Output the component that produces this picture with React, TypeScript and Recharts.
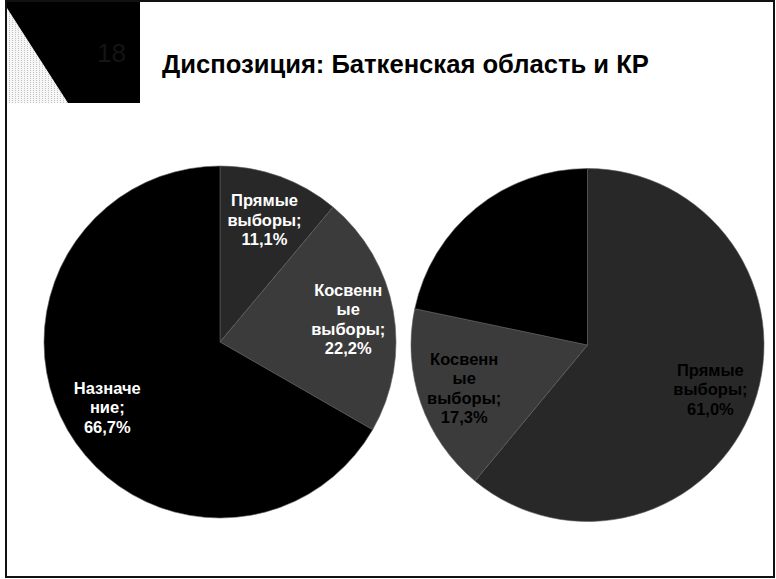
import React from "react";
import { PieChart, Pie, Cell } from "recharts";

const categories = ["Прямые выборы", "Косвенные выборы", "Назначение"];
const batkenValues = [11.1, 22.2, 66.7];
const krValues = [61.0, 17.3, 21.7];
const sliceColors = ["#282828", "#3b3b3b", "#000000"];
const titleText = "Диспозиция: Баткенская область и КР";
const slideNumber = "18";

const batkenData = categories.map((name, i) => ({ name, value: batkenValues[i] }));
const krData = categories.map((name, i) => ({ name, value: krValues[i] }));

const FONT = "'Liberation Sans', Arial, sans-serif";
const RAD = Math.PI / 180;

function wrapLabel(name: string, maxChars = 7): string[] {
  const words = (name + ";").split(" ");
  const lines: string[] = [];
  for (let w of words) {
    while (w.length > maxChars) {
      lines.push(w.slice(0, maxChars));
      w = w.slice(maxChars);
    }
    lines.push(w);
  }
  return lines;
}

function fmt(v: number) {
  return v.toFixed(1).replace(".", ",") + "%";
}

function makeLabel(color: string) {
  return (props: any) => {
    const { cx, cy, midAngle, outerRadius, name, value } = props;
    const r = outerRadius * 0.74;
    const x = cx + r * Math.cos(-midAngle * RAD);
    const y = cy + r * Math.sin(-midAngle * RAD);
    const lines = [...wrapLabel(name), fmt(value)];
    const lh = 19.5;
    const y0 = y - ((lines.length - 1) * lh) / 2;
    return (
      <text
        x={x}
        y={y0}
        fill={color}
        textAnchor="middle"
        dominantBaseline="central"
        style={{ fontFamily: FONT, fontSize: 16.5, fontWeight: 700 }}
      >
        {lines.map((l, i) => (
          <tspan key={i} x={x} y={y0 + i * lh}>
            {l}
          </tspan>
        ))}
      </text>
    );
  };
}

export default function App() {
  return (
    <div
      style={{
        position: "absolute",
        left: 0,
        top: 0,
        width: 776,
        height: 579,
        background: "#fff",
        overflow: "hidden",
      }}
    >
      <svg width={776} height={579} style={{ position: "absolute", left: 0, top: 0 }}>
        <defs>
          <pattern id="dots" width="3" height="2" patternUnits="userSpaceOnUse">
            <rect width="3" height="2" fill="#f6f6f6" />
            <rect x="0" y="0" width="1" height="1" fill="#c4c4c4" />
          </pattern>
        </defs>
        <rect x={7} y={2} width={133} height={101} fill="#000" />
        <polygon points="7,8 7,103 68,103" fill="url(#dots)" />
        <text
          x={97}
          y={62}
          fill="#141414"
          style={{ fontFamily: FONT, fontSize: 26 }}
        >
          {slideNumber}
        </text>
        <text
          x={162}
          y={73}
          fill="#000"
          style={{ fontFamily: FONT, fontSize: 25.6, fontWeight: 700 }}
        >
          {titleText}
        </text>
        <rect x={6} y={1} width={768} height={576} fill="none" stroke="#111" strokeWidth={2} />
      </svg>
      <div style={{ position: "absolute", left: 0, top: 0 }}>
        <PieChart width={776} height={579} margin={{ top: 0, right: 0, bottom: 0, left: 0 }}>
          <Pie
            data={batkenData}
            dataKey="value"
            nameKey="name"
            cx={220}
            cy={342}
            outerRadius={176}
            startAngle={90}
            endAngle={-270}
            stroke="#5e5e5e"
            strokeWidth={0.6}
            label={makeLabel("#ffffff")}
            labelLine={false}
            isAnimationActive={false}
          >
            {batkenData.map((d, i) => (
              <Cell key={d.name} fill={sliceColors[i]} />
            ))}
          </Pie>
          <Pie
            data={krData}
            dataKey="value"
            nameKey="name"
            cx={587.5}
            cy={345}
            outerRadius={176.5}
            startAngle={90}
            endAngle={-270}
            stroke="#5e5e5e"
            strokeWidth={0.6}
            label={makeLabel("#000000")}
            labelLine={false}
            isAnimationActive={false}
          >
            {krData.map((d, i) => (
              <Cell key={d.name} fill={sliceColors[i]} />
            ))}
          </Pie>
        </PieChart>
      </div>
    </div>
  );
}
